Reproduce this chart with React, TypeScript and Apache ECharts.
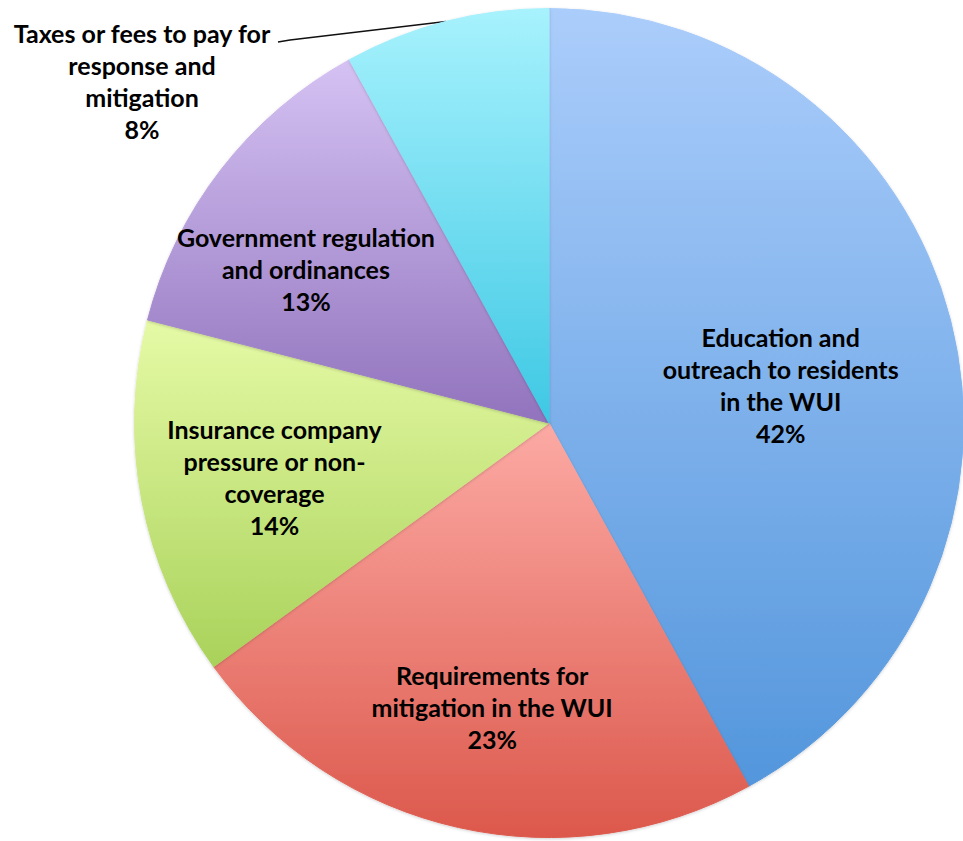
import React, { useEffect, useRef } from "react";
import * as echarts from "echarts";

const categories = [
  "Education and\noutreach to residents\nin the WUI",
  "Requirements for\nmitigation in the WUI",
  "Insurance company\npressure or non-\ncoverage",
  "Government regulation\nand ordinances",
  "Taxes or fees to pay for\nresponse and\nmitigation",
];
const values = [42, 23, 14, 13, 8];
const topColors = ["#abcdfb", "#fcaaa4", "#e6faa6", "#d5c2f3", "#a7f2fd"];
const bottomColors = ["#5396dc", "#dc584c", "#a9d25a", "#9173bd", "#3ec8e4"];
// label offsets relative to the default inside position
const labelOffsets = [
  [28, 14],
  [-11, 79],
  [-68, 15],
  [-77, -25],
];
const outsideLabelPos = [142, 81];

const grad = (i: number) =>
  new echarts.graphic.LinearGradient(0, 0, 0, 1, [
    { offset: 0, color: topColors[i] },
    { offset: 1, color: bottomColors[i] },
  ]);

export default function App() {
  const ref = useRef<HTMLDivElement>(null);
  useEffect(() => {
    const chart = echarts.init(ref.current!, null, { renderer: "svg" });
    chart.setOption({
      animation: false,
      backgroundColor: "#ffffff",
      series: [
        {
          type: "pie",
          center: ["57.01%", "50.3%"],
          radius: [0, 414.5],
          startAngle: 90,
          clockwise: true,
          avoidLabelOverlap: false,
          label: {
            show: true,
            position: "inside",
            formatter: "{b}\n{c}%",
            color: "#000000",
            fontFamily: "Lato, 'Open Sans', sans-serif",
            fontWeight: "bold",
            fontSize: 25,
            lineHeight: 32,
            align: "center",
          },
          labelLine: { show: false },
          labelLayout: (p: any) => {
            const i = p.dataIndex;
            if (i < labelOffsets.length) {
              return { dx: labelOffsets[i][0], dy: labelOffsets[i][1] };
            }
            const [lx, ly] = outsideLabelPos;
            const start = p.labelLinePoints ? p.labelLinePoints[0] : [447, 20];
            return {
              x: lx,
              y: ly,
              align: "center",
              verticalAlign: "middle",
              labelLinePoints: [start, [lx + 148, ly - 41], [lx + 136, ly - 39]],
            };
          },
          data: categories.map((name, i) => ({
            name,
            value: values[i],
            itemStyle: {
              color: grad(i),
              borderColor: grad(i),
              borderWidth: 1,
              borderJoin: "round",
              shadowBlur: 3,
              shadowOffsetY: 1,
              shadowColor: "rgba(0,0,0,0.18)",
            },
            ...(i === 4
              ? {
                  label: { position: "outside" },
                  labelLine: {
                    show: true,
                    length: 20,
                    length2: 10,
                    lineStyle: { color: "#111111", width: 1.5 },
                  },
                }
              : {}),
          })),
        },
      ],
    });
    return () => chart.dispose();
  }, []);
  return (
    <div
      ref={ref}
      style={{ position: "fixed", left: 0, top: 0, width: 963, height: 841 }}
    />
  );
}
